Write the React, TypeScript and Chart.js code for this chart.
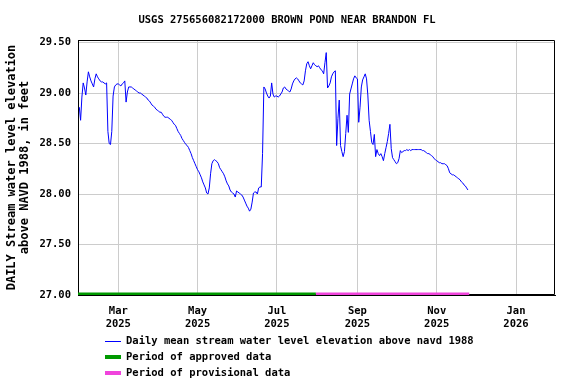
import React, { useEffect, useRef } from 'react';
import { Chart, registerables } from 'chart.js';

Chart.register(...registerables);

const FONT = '"DejaVu Sans Mono", monospace';

const TITLE = 'USGS 275656082172000 BROWN POND NEAR BRANDON FL';
const Y_TITLE = ['DAILY Stream water level elevation', 'above NAVD 1988, in feet'];

// x values are days counted from 2025-01-01 (day 0)
const X_MIN = 28;
const X_MAX = 395;
const START_DAY = 29; // first daily value: 2025-01-30

const levelValues = [
  28.86, 28.73, 28.96, 29.10, 29.05, 28.98, 29.11, 29.21, 29.16, 29.12,
  29.09, 29.06, 29.14, 29.19, 29.16, 29.14, 29.12, 29.11, 29.11, 29.10,
  29.09, 29.10, 28.62, 28.50, 28.49, 28.62, 28.97, 29.06, 29.08, 29.09,
  29.09, 29.08, 29.07, 29.09, 29.10, 29.12, 28.91, 29.01, 29.06, 29.06,
  29.06, 29.05, 29.04, 29.03, 29.02, 29.01, 29.00, 29.00, 28.99, 28.98,
  28.97, 28.96, 28.95, 28.93, 28.92, 28.90, 28.88, 28.87, 28.86, 28.84,
  28.83, 28.82, 28.81, 28.81, 28.79, 28.77, 28.76, 28.76, 28.76, 28.75,
  28.74, 28.73, 28.71, 28.69, 28.68, 28.65, 28.62, 28.60, 28.58, 28.55,
  28.53, 28.51, 28.49, 28.48, 28.46, 28.43, 28.40, 28.36, 28.33, 28.30,
  28.27, 28.24, 28.22, 28.19, 28.16, 28.12, 28.09, 28.06, 28.01, 28.00,
  28.06, 28.20, 28.30, 28.33, 28.34, 28.33, 28.32, 28.30, 28.26, 28.24,
  28.22, 28.20, 28.17, 28.13, 28.10, 28.08, 28.04, 28.02, 28.01, 28.00,
  27.97, 28.03, 28.02, 28.01, 28.00, 27.99, 27.97, 27.94, 27.91, 27.88,
  27.86, 27.83, 27.85, 27.92, 28.01, 28.02, 28.02, 28.00, 28.06, 28.07,
  28.07, 28.40, 29.06, 29.04, 29.00, 28.97, 28.95, 28.97, 29.10, 28.99,
  28.96, 28.97, 28.97, 28.96, 28.97, 28.99, 29.01, 29.05, 29.06, 29.04,
  29.03, 29.02, 29.01, 29.04, 29.09, 29.12, 29.14, 29.15, 29.14, 29.12,
  29.10, 29.09, 29.08, 29.12, 29.22, 29.29, 29.31, 29.27, 29.24, 29.27,
  29.30, 29.28, 29.27, 29.26, 29.27, 29.25, 29.23, 29.22, 29.19, 29.30,
  29.40, 29.05, 29.07, 29.10, 29.16, 29.19, 29.21, 29.22, 28.48, 28.75,
  28.93, 28.48, 28.42, 28.37, 28.42, 28.60, 28.78, 28.61, 28.99, 29.04,
  29.09, 29.14, 29.17, 29.15, 29.14, 28.71, 28.86, 29.06, 29.13, 29.16,
  29.19, 29.14, 28.98, 28.73, 28.62, 28.51, 28.49, 28.59, 28.37, 28.44,
  28.40, 28.38, 28.40, 28.37, 28.33, 28.40, 28.46, 28.52, 28.60, 28.69,
  28.45, 28.36, 28.34, 28.32, 28.30, 28.31, 28.35, 28.43, 28.41, 28.42,
  28.43, 28.43, 28.44, 28.43, 28.44, 28.43, 28.44, 28.44, 28.44, 28.44,
  28.44, 28.44, 28.44, 28.44, 28.43, 28.43, 28.42, 28.41, 28.40, 28.40,
  28.39, 28.38, 28.37, 28.35, 28.34, 28.33, 28.32, 28.31, 28.31, 28.30,
  28.30, 28.30, 28.29, 28.28, 28.25, 28.21, 28.20, 28.19, 28.19, 28.18,
  28.17, 28.16, 28.15, 28.14, 28.12, 28.11, 28.09, 28.08, 28.06, 28.04,
];

const xTickDays = [59, 120, 181, 243, 304, 365];
const xTickLabels = [
  ['Mar', '2025'],
  ['May', '2025'],
  ['Jul', '2025'],
  ['Sep', '2025'],
  ['Nov', '2025'],
  ['Jan', '2026'],
];

const Y_MIN = 27;
const Y_MAX = 29.525;
const yTicks = [27, 27.5, 28, 28.5, 29, 29.5];

const approvedPeriod = [28, 211];
const provisionalPeriod = [211, 329];
const PERIOD_LEVEL = 27;

const LEVEL_COLOR = '#0000ff';
const APPROVED_COLOR = '#009900';
const PROVISIONAL_COLOR = '#f044dc';

const legendItems = [
  { label: 'Daily mean stream water level elevation above navd 1988', color: LEVEL_COLOR, width: 1 },
  { label: 'Period of approved data', color: APPROVED_COLOR, width: 4 },
  { label: 'Period of provisional data', color: PROVISIONAL_COLOR, width: 4 },
];

const framePlugin = {
  id: 'frame',
  beforeDatasetsDraw(chart: any) {
    const { ctx, chartArea } = chart;
    const { left, right, top, bottom } = chartArea;
    ctx.save();
    ctx.strokeStyle = '#000';
    ctx.lineWidth = 1;
    ctx.beginPath();
    ctx.moveTo(left + 0.5, top + 0.5);
    ctx.lineTo(right - 0.5, top + 0.5);
    ctx.lineTo(right - 0.5, bottom - 0.5);
    ctx.lineTo(left + 0.5, bottom - 0.5);
    ctx.closePath();
    ctx.stroke();
    ctx.restore();
  },
};

const textPlugin = {
  id: 'customText',
  afterDraw(chart: any) {
    const { ctx } = chart;
    ctx.save();
    ctx.font = `bold 10.5px ${FONT}`;
    ctx.textBaseline = 'middle';
    ctx.fillStyle = '#000';
    ctx.textAlign = 'center';
    ctx.fillText(TITLE, 287, 20.5);
    ctx.textAlign = 'left';
    legendItems.forEach((item, i) => {
      const y = 341 + i * 16;
      ctx.strokeStyle = item.color;
      ctx.lineWidth = item.width;
      ctx.beginPath();
      const yy = item.width % 2 === 1 ? y + 0.5 : y;
      ctx.moveTo(105, yy);
      ctx.lineTo(121, yy);
      ctx.stroke();
      ctx.fillStyle = '#000';
      ctx.fillText(item.label, 126, y + 0.5);
    });
    ctx.restore();
  },
};

export default function App() {
  const canvasRef = useRef<HTMLCanvasElement | null>(null);

  useEffect(() => {
    const canvas = canvasRef.current;
    if (!canvas) return;
    const levelData = levelValues.map((v, i) => ({ x: START_DAY + i, y: v }));
    const chart = new Chart(canvas, {
      type: 'line',
      data: {
        datasets: [
          {
            label: legendItems[0].label,
            data: levelData,
            borderColor: LEVEL_COLOR,
            borderWidth: 1,
            pointRadius: 0,
            tension: 0,
            fill: false,
          },
          {
            label: legendItems[1].label,
            data: approvedPeriod.map((d) => ({ x: d, y: PERIOD_LEVEL })),
            borderColor: APPROVED_COLOR,
            borderWidth: 5,
            pointRadius: 0,
            borderCapStyle: 'butt',
          },
          {
            label: legendItems[2].label,
            data: provisionalPeriod.map((d) => ({ x: d, y: PERIOD_LEVEL })),
            borderColor: PROVISIONAL_COLOR,
            borderWidth: 5,
            pointRadius: 0,
            borderCapStyle: 'butt',
          },
        ],
      },
      options: {
        animation: false,
        responsive: false,
        devicePixelRatio: 1,
        layout: { padding: { top: 40, left: 0, right: 21, bottom: 49 } },
        plugins: {
          legend: { display: false },
          tooltip: { enabled: false },
          title: { display: false },
        },
        scales: {
          x: {
            type: 'linear',
            min: X_MIN,
            max: X_MAX,
            afterFit: (scale: any) => {
              scale.height = 40;
            },
            afterBuildTicks: (scale: any) => {
              scale.ticks = xTickDays.map((v) => ({ value: v }));
            },
            grid: { color: '#cccccc', lineWidth: 1, drawTicks: false },
            border: { display: true, color: '#000', width: 1 },
            ticks: {
              autoSkip: false,
              maxRotation: 0,
              padding: 10,
              color: '#000',
              font: { family: FONT, size: 10.5, weight: 'bold', lineHeight: 1.25 },
              callback: (value: any) => {
                const idx = xTickDays.indexOf(Number(value));
                return idx >= 0 ? xTickLabels[idx] : '';
              },
            },
          },
          y: {
            type: 'linear',
            min: Y_MIN,
            max: Y_MAX,
            afterFit: (scale: any) => {
              scale.width = 78;
            },
            afterBuildTicks: (scale: any) => {
              scale.ticks = yTicks.map((v) => ({ value: v }));
            },
            grid: { color: '#cccccc', lineWidth: 1, drawTicks: false },
            border: { display: true, color: '#000', width: 1 },
            ticks: {
              padding: 7,
              color: '#000',
              font: { family: FONT, size: 10.5, weight: 'bold' },
              callback: (value: any) => Number(value).toFixed(2),
            },
            title: {
              display: true,
              text: Y_TITLE,
              color: '#000',
              font: { family: FONT, size: 12, weight: 'bold', lineHeight: 1.1 },
              padding: { top: 5.4, bottom: 0 },
            },
          },
        },
      },
      plugins: [framePlugin, textPlugin],
    } as any);
    return () => chart.destroy();
  }, []);

  return (
    <div style={{ position: 'fixed', left: 0, top: 0, width: 576, height: 384, background: '#fff' }}>
      <canvas ref={canvasRef} width={576} height={384} />
    </div>
  );
}
